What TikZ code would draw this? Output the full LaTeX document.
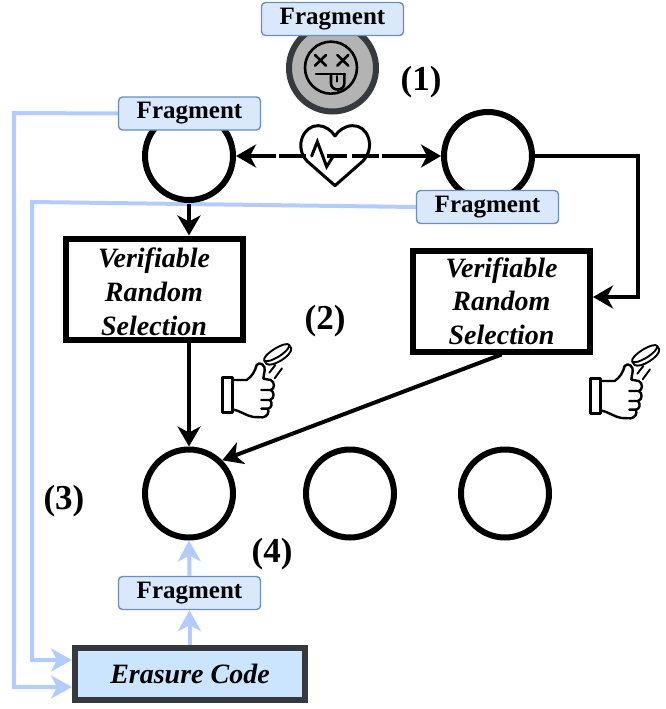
\documentclass[tikz,border=0pt]{standalone}
\usepackage{fontspec}
\setmainfont{Liberation Serif}
\usetikzlibrary{arrows.meta,backgrounds}
\definecolor{bluefill}{HTML}{DAE8FC}
\definecolor{blueedge}{HTML}{6C8EBF}
\definecolor{bluearrow}{HTML}{B3CCFF}
\definecolor{codefill}{HTML}{CCE5FF}
\definecolor{darkedge}{HTML}{36393D}
\definecolor{deadfill}{HTML}{B3B3B3}
\tikzset{
  every node/.style={inner sep=0pt},
  peer/.style={circle,draw=black,line width=6pt,fill=white,minimum size=88pt},
  deadpeer/.style={circle,draw=darkedge,line width=6pt,fill=deadfill,minimum size=87pt},
  fragbox/.style={rectangle,rounded corners=4pt,draw=blueedge,line width=1.4pt,fill=bluefill,
    minimum width=142pt,minimum height=33pt,font=\fontsize{25}{28}\selectfont\bfseries},
  vrsbox/.style={rectangle,draw=black,line width=6pt,fill=white,minimum width=177pt,minimum height=101pt,
    align=center,font=\fontsize{28}{33.7}\selectfont\bfseries\itshape},
  codebox/.style={rectangle,draw=darkedge,line width=6pt,fill=codefill,minimum width=230pt,minimum height=52pt,
    font=\fontsize{28}{33}\selectfont\bfseries\itshape},
  steplabel/.style={font=\fontsize{35}{38}\selectfont\bfseries},
  blackflow/.style={draw=black,line width=4pt,-{Stealth[length=20pt,width=23pt,inset=6pt]}},
  blueflow/.style={draw=bluearrow,line width=4pt,-{Stealth[length=21pt,width=23pt,inset=6pt]}},
  icon/.style={draw=black,line width=2.4pt,line join=round,line cap=round},
  coinline/.style={draw=black,line width=1.9pt,line join=round,line cap=round},
  pics/thumbcoin/.style={code={
    \begin{scope}[x=0.3333pt,y=-0.3333pt]
      \draw[icon] (68,142) rectangle (98,248);
      \draw[icon] (98,150) -- (140,150) .. controls (155,140) and (165,125) .. (170,105)
        .. controls (180,92) and (198,108) .. (194,122) .. controls (193,130) and (190,138) .. (190,146)
        -- (212,150) .. controls (225,155) and (225,178) .. (212,180) -- (184,180);
      \draw[icon] (212,180) .. controls (224,185) and (224,206) .. (210,210) -- (184,210);
      \draw[icon] (210,210) .. controls (218,218) and (216,234) .. (204,236) -- (184,236);
      \draw[icon] (204,236) .. controls (208,248) and (202,260) .. (188,262) -- (160,261)
        .. controls (140,258) and (120,242) .. (98,238);
      \draw[coinline,rotate around={32:(230,68)}] (230,68) ellipse [x radius=44,y radius=13];
      \draw[coinline,rotate around={32:(230,68)}] (186,68) -- (186,80) .. controls (194,100) and (266,100) .. (274,80) -- (274,68);
      \draw[coinline] (208,128) -- (226,105);
      \draw[coinline] (224,145) -- (246,115);
    \end{scope}
  }}
}
\begin{document}
\begin{tikzpicture}[x=1pt,y=-1pt]
\useasboundingbox (0,0) rectangle (665,709);
% peers
\node[deadpeer] (dead) at (332.5,68) {};
\node[peer] (pa) at (189,156) {};
\node[peer] (pb) at (488,156) {};
\node[peer] (pc) at (189,493.5) {};
\node[peer] (pd) at (350,493.5) {};
\node[peer] (pe) at (505,493.5) {};
% fragments
\node[fragbox] (ftop) at (332.5,19) {Fragment};
\node[fragbox] (fa) at (189.5,113.5) {Fragment};
\node[fragbox] (fb) at (487.5,207) {Fragment};
\node[fragbox] (fc) at (189.5,593) {Fragment};
% boxes
\node[vrsbox] (va) at (154,289) {\rule{0pt}{25pt}Verifiable\\Random\\Selection};
\node[vrsbox] (vb) at (501.5,301) {Verifiable\\Random\\Selection};
\node[codebox] (code) at (190,674) {Erasure Code};
% labels
\node[steplabel] (l1) at (421,82) {(1)};
\node[steplabel] (l2) at (325,321) {(2)};
\node[steplabel] (l3) at (64,501) {(3)};
\node[steplabel] (l4) at (272,554) {(4)};
% free corners
\coordinate (c1) at (14,113);
\coordinate (c2) at (14,687);
\coordinate (c3) at (32,202);
\coordinate (c4) at (32,660);
\coordinate (c5) at (638,156);
\coordinate (c6) at (638,297);
\coordinate (ca) at (189,204);
% blue connectors
\begin{scope}[on background layer]
  \draw[blueflow] (fa.west) -- (c1) -- (c2) -- (c2-|code.west);
  \draw[blueflow] (fb.west) -- (c3) -- (c4) -- (c4-|code.west);
\end{scope}
\draw[blueflow] (code.north-|fc) -- (fc.south);
\draw[blueflow] (fc.north) -- (pc.south);
% black connectors
\draw[blackflow] (ca) -- (va.north-|ca);
\draw[blackflow] (va.south-|ca) -- (pc.north);
\draw[blackflow] (vb.south) -- (pc.45);
\draw[blackflow] (pb.east) -- (c5) -- (c6) -- (c6-|vb.east);
\draw[draw=black,line width=4pt,{Stealth[length=20pt,width=23pt,inset=6pt]}-{Stealth[length=20pt,width=23pt,inset=6pt]},
  dash pattern=on 27pt off 3pt on 27pt off 21pt on 20pt off 5pt on 27pt off 3pt on 60pt] (pa.east) -- (pb.west);
% heart with pulse
\begin{scope}[shift={(230,0)},x=0.3333pt,y=-0.3333pt]
  \draw[icon,line width=3pt] (315,557) -- (232,484) .. controls (190,440) and (222,375) .. (265,377)
    .. controls (285,377) and (305,392) .. (315,408) .. controls (325,392) and (345,377) .. (368,377)
    .. controls (412,375) and (440,440) .. (398,484) -- cycle;
  \draw[icon,line width=3pt,line join=miter] (245,468) -- (262,425) -- (290,500) -- (310,468);
  % dead face
  \draw[icon,line width=2.6pt] (303,203) circle [radius=78];
  \draw[icon,line width=2.6pt] (255,165) -- (288,197) (288,165) -- (255,197);
  \draw[icon,line width=2.6pt] (322,165) -- (355,197) (355,165) -- (322,197);
  \draw[icon,line width=2.6pt] (258,222) -- (345,222);
  \draw[icon,line width=2.6pt] (303,222) -- (303,250) .. controls (303,275) and (343,275) .. (343,250) -- (343,222);
  \draw[icon,line width=1.8pt] (320,228) -- (320,245);
\end{scope}
% thumbs
\pic at (200,330) {thumbcoin};
\pic at (568,331) {thumbcoin};
\end{tikzpicture}
\end{document}
